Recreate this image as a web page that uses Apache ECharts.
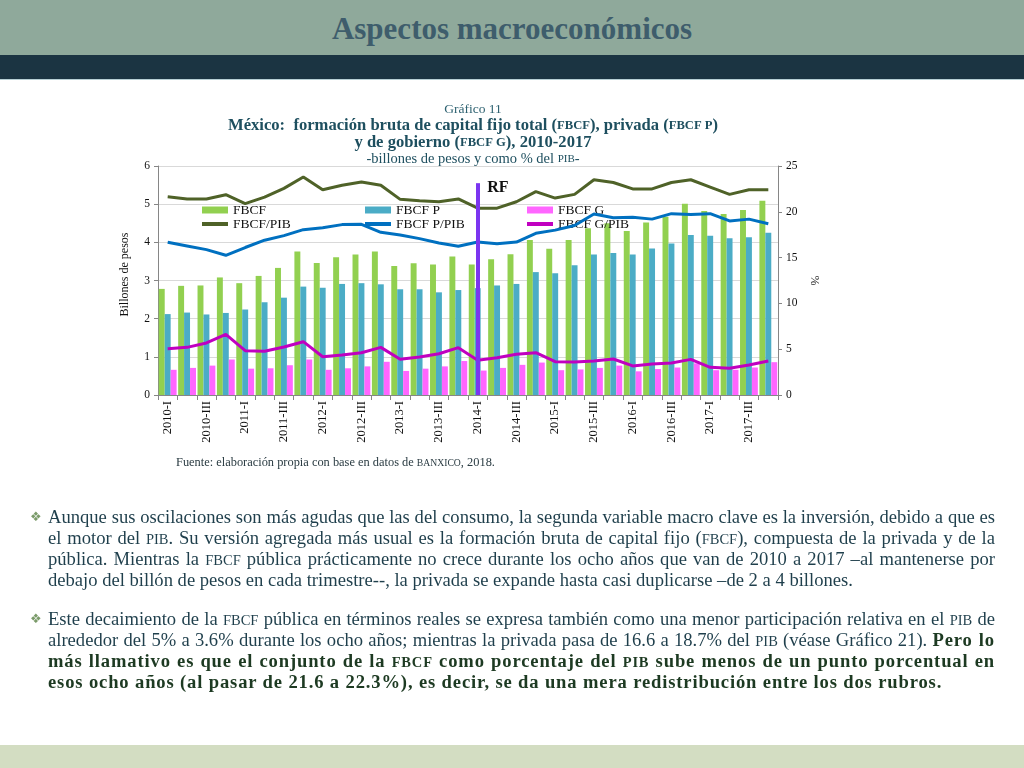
<!DOCTYPE html>
<html>
<head>
<meta charset="utf-8">
<script src="https://cdn.jsdelivr.net/npm/echarts@6/dist/echarts.min.js"></script>
<style>
  html, body { margin:0; padding:0; width:1024px; height:768px; background:#fff; overflow:hidden; }
  .abs { position:absolute; }
  #hdr { left:0; top:0; width:1024px; height:55px; background:#8fa99b; }
  #hdrTitle { left:0; top:0; width:1024px; height:55px; line-height:57px; text-align:center;
    font-family:"Liberation Serif", serif; font-weight:bold; font-size:31px; color:#3e5d6c; }
  #band { left:0; top:55px; width:1024px; height:24px; background:#1b3442; border-bottom:1px solid #b7cfd5; }
  #foot { left:0; top:745px; width:1024px; height:23px; background:#d3ddc2; }
  #chart { left:0; top:0; width:1024px; height:768px; }
  .src { left:176px; top:455px; font-family:"Liberation Serif", serif; font-size:12.4px; color:#2a3b42; white-space:nowrap; }
  .para { left:48px; width:947px; font-family:"Liberation Serif", serif; font-size:18.6px; line-height:21px; color:#1f3f4c; }
  .para div { height:21px; overflow:visible; text-align:justify; text-align-last:justify; white-space:nowrap; }
  .para div.last { text-align-last:left; }
  .sc { font-size:0.78em; line-height:0; }
  .bul { left:30px; font-family:"DejaVu Sans", sans-serif; font-size:13px; color:#7b9b6a; line-height:21px; }
  b { color:#1d3a22; letter-spacing:0.85px; }
</style>
</head>
<body>
<div id="hdr" class="abs"></div>
<div id="hdrTitle" class="abs">Aspectos macroeconómicos</div>
<div id="band" class="abs"></div>
<div id="foot" class="abs"></div>
<div id="chart" class="abs"></div>
<div class="abs src">Fuente: elaboración propia con base en datos de <span class="sc">BANXICO</span>, 2018.</div>

<div class="abs bul" style="top:506px;">❖</div>
<div class="abs para" style="top:506px;">
  <div>Aunque sus oscilaciones son más agudas que las del consumo, la segunda variable macro clave es la inversión, debido a que es</div>
  <div>el motor del <span class="sc">PIB</span>. Su versión agregada más usual es la formación bruta de capital fijo (<span class="sc">FBCF</span>), compuesta de la privada y de la</div>
  <div>pública. Mientras la <span class="sc">FBCF</span> pública prácticamente no crece durante los ocho años que van de 2010 a 2017 –al mantenerse por</div>
  <div class="last">debajo del billón de pesos en cada trimestre--, la privada se expande hasta casi duplicarse –de 2 a 4 billones.</div>
</div>

<div class="abs bul" style="top:608px;">❖</div>
<div class="abs para" style="top:608px;">
  <div>Este decaimiento de la <span class="sc">FBCF</span> pública en términos reales se expresa también como una menor participación relativa en el <span class="sc">PIB</span> de</div>
  <div>alrededor del 5% a 3.6% durante los ocho años; mientras la privada pasa de 16.6 a 18.7% del <span class="sc">PIB</span> (véase Gráfico 21). <b>Pero lo</b></div>
  <div><b>más llamativo es que el conjunto de la <span class="sc">FBCF</span> como porcentaje del <span class="sc">PIB</span> sube menos de un punto porcentual en</b></div>
  <div class="last"><b>esos ocho años (al pasar de 21.6 a 22.3%), es decir, se da una mera redistribución entre los dos rubros.</b></div>
</div>

<script>
const categories = ['2010-I','2010-II','2010-III','2010-IV','2011-I','2011-II','2011-III','2011-IV',
  '2012-I','2012-II','2012-III','2012-IV','2013-I','2013-II','2013-III','2013-IV',
  '2014-I','2014-II','2014-III','2014-IV','2015-I','2015-II','2015-III','2015-IV',
  '2016-I','2016-II','2016-III','2016-IV','2017-I','2017-II','2017-III','2017-IV'];

// Billones de pesos
const fbcf  = [2.78,2.86,2.87,3.08,2.93,3.12,3.33,3.76,3.46,3.61,3.68,3.76,3.38,3.45,3.42,3.63,
               3.42,3.56,3.69,4.06,3.83,4.06,4.37,4.50,4.30,4.52,4.67,5.01,4.82,4.74,4.85,5.09];
const fbcfP = [2.12,2.16,2.11,2.15,2.24,2.43,2.55,2.84,2.81,2.91,2.93,2.90,2.77,2.77,2.69,2.75,
               2.80,2.87,2.91,3.22,3.19,3.40,3.68,3.72,3.68,3.84,3.97,4.19,4.17,4.11,4.13,4.25];
const fbcfG = [0.66,0.71,0.77,0.93,0.69,0.70,0.78,0.93,0.66,0.70,0.75,0.87,0.63,0.69,0.75,0.89,
               0.64,0.71,0.79,0.85,0.65,0.67,0.71,0.77,0.62,0.68,0.72,0.83,0.65,0.66,0.72,0.86];
// % del PIB
const fbcfPib  = [21.65,21.4,21.4,21.87,20.9,21.6,22.56,23.8,22.4,22.9,23.25,22.9,21.36,21.2,21.1,21.4,
                  20.4,20.4,21.1,22.2,21.5,21.9,23.5,23.2,22.5,22.5,23.2,23.5,22.7,21.9,22.4,22.4];
const fbcfPPib = [16.67,16.27,15.87,15.25,16.1,16.9,17.4,18.05,18.27,18.6,18.63,17.76,17.47,17.07,16.6,16.23,
                  16.7,16.5,16.7,17.65,18.0,18.5,19.76,19.36,19.4,19.2,19.8,19.7,19.8,19.0,19.2,18.7];
const fbcfGPib = [5.06,5.2,5.68,6.62,4.84,4.77,5.24,5.82,4.18,4.37,4.62,5.2,3.9,4.15,4.5,5.17,
                  3.8,4.07,4.44,4.62,3.64,3.6,3.71,3.93,3.17,3.38,3.49,3.89,3.02,2.91,3.27,3.71];
// Reforma fiscal marker
const rfCategory = '2014-I';
const rfHeight = 5.55;

const leftTicks = { min:0, max:6, interval:1 };
const rightTicks = { min:0, max:25, interval:5 };

const serif = '"Liberation Serif", serif';
const chart = echarts.init(document.getElementById('chart'), null, { renderer:'canvas' });

const legendText = { fontFamily: serif, fontSize: 13.5, color:'#111', lineHeight: 12 };
const lineIcon = 'path://M0,0H26V4H0Z';
function mkLegend(left, barName, lineName) {
  return {
    left: left, top: 203, orient:'vertical', itemGap: 0, itemWidth: 26, itemHeight: 7,
    padding: 0, textStyle: legendText, selectedMode: false,
    data: [ { name: barName, icon: 'rect' }, { name: lineName, icon: lineIcon } ]
  };
}

chart.setOption({
  animation: false,
  title: {
    left: 468, top: 96, textAlign: 'center',
    text: '{g|Gráfico 11}\n{b|México:  formación bruta de capital fijo total (}{bs|FBCF}{b|), privada (}{bs|FBCF P}{b|)}\n{b|y de gobierno (}{bs|FBCF G}{b|), 2010-2017}\n{n|-billones de pesos y como % del }{ns|PIB}{n|-}',
    textStyle: {
      fontWeight: 'normal',
      rich: {
        g:  { fontFamily: serif, fontSize: 13.5, fontWeight:'normal', color:'#2e6271', lineHeight: 16.5 },
        b:  { fontFamily: serif, fontSize: 16.6, fontWeight:'bold', color:'#1e4f5f', lineHeight: 16.5 },
        bs: { fontFamily: serif, fontSize: 12.6, fontWeight:'bold', color:'#1e4f5f', lineHeight: 16.5 },
        n:  { fontFamily: serif, fontSize: 14.5, fontWeight:'normal', color:'#1e4f5f', lineHeight: 16.5 },
        ns: { fontFamily: serif, fontSize: 11, fontWeight:'normal', color:'#1e4f5f', lineHeight: 16.5 }
      }
    }
  },
  legend: [
    mkLegend(202, 'FBCF', 'FBCF/PIB'),
    mkLegend(365, 'FBCF P', 'FBCF P/PIB'),
    mkLegend(527, 'FBCF G', 'FBCF G/PIB')
  ],
  grid: { left: 158, right: 246, top: 166, bottom: 373, containLabel: false },
  xAxis: {
    type: 'category', data: categories,
    axisLine: { lineStyle: { color:'#868686', width:1 } },
    axisTick: { show:true, interval:0, alignWithLabel:false, length:5, lineStyle:{ color:'#868686' } },
    axisLabel: { interval:1, rotate:90, fontFamily: serif, fontSize: 12.5, color:'#111', margin: 6 }
  },
  yAxis: [
    {
      type:'value', min:leftTicks.min, max:leftTicks.max, interval:leftTicks.interval,
      name:'Billones de pesos', nameLocation:'middle', nameGap: 27,
      nameTextStyle: { fontFamily: serif, fontSize: 12, color:'#111', padding:[0,0,0,12] },
      axisLine: { show:true, lineStyle:{ color:'#868686' } },
      axisTick: { show:true, length:4, lineStyle:{ color:'#868686' } },
      axisLabel: { fontFamily: serif, fontSize: 11.5, color:'#111', margin: 8 },
      splitLine: { show:true, lineStyle:{ color:'#d9d9d9', width:1 } }
    },
    {
      type:'value', position:'right', min:rightTicks.min, max:rightTicks.max, interval:rightTicks.interval,
      name:'%', nameLocation:'middle', nameGap: 28, nameRotate: -90,
      nameTextStyle: { fontFamily: serif, fontSize: 12, color:'#111' },
      axisLine: { show:true, lineStyle:{ color:'#868686' } },
      axisTick: { show:true, length:4, lineStyle:{ color:'#868686' } },
      axisLabel: { fontFamily: serif, fontSize: 11.5, color:'#111', margin: 8 },
      splitLine: { show:false }
    }
  ],
  series: [
    { name:'FBCF', type:'bar', data: fbcf, yAxisIndex:0, barGap:'0%', barCategoryGap:'8%',
      itemStyle:{ color:'#92d050' } },
    { name:'FBCF P', type:'bar', data: fbcfP, yAxisIndex:0, barGap:'0%', barCategoryGap:'8%',
      itemStyle:{ color:'#4bacc6' } },
    { name:'FBCF G', type:'bar', data: fbcfG, yAxisIndex:0, barGap:'0%', barCategoryGap:'8%',
      itemStyle:{ color:'#ff66ff' } },
    { name:'FBCF/PIB', type:'line', data: fbcfPib, yAxisIndex:1, symbol:'none', z:5,
      lineStyle:{ color:'#4f6228', width:3 }, itemStyle:{ color:'#4f6228' } },
    { name:'FBCF P/PIB', type:'line', data: fbcfPPib, yAxisIndex:1, symbol:'none', z:5,
      lineStyle:{ color:'#0070c0', width:3 }, itemStyle:{ color:'#0070c0' } },
    { name:'FBCF G/PIB', type:'line', data: fbcfGPib, yAxisIndex:1, symbol:'none', z:5,
      lineStyle:{ color:'#c000c0', width:3 }, itemStyle:{ color:'#c000c0' } },
    { name:'RF', type:'line', data: [], yAxisIndex:0, z:10,
      markLine: {
        silent:true, symbol:['none','none'], z:10,
        lineStyle:{ color:'#7b35f0', width:4, type:'solid' },
        label:{ show:false },
        data: [[ { coord:[rfCategory, 0] }, { coord:[rfCategory, rfHeight] } ]]
      },
      markPoint: {
        silent:true, symbol:'circle', symbolSize:1, itemStyle:{ color:'rgba(0,0,0,0)' },
        label:{ show:true, position:'right', distance:9, offset:[0,5], formatter:'RF',
          fontFamily: serif, fontWeight:'bold', fontSize:16, color:'#111' },
        data: [ { coord:[rfCategory, rfHeight] } ]
      }
    }
  ]
});
</script>
</body>
</html>
